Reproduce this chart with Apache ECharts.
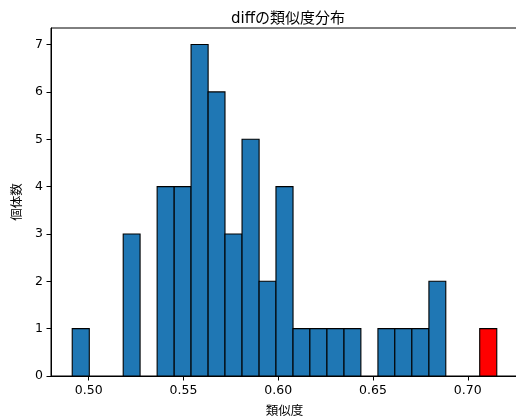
<!DOCTYPE html>
<html>
<head>
<meta charset="utf-8">
<script src="https://cdn.jsdelivr.net/npm/echarts@6/dist/echarts.min.js"></script>
<style>
html,body{margin:0;padding:0;background:#fff;}
#chart{width:516px;height:419px;}
</style>
</head>
<body>
<div id="chart"></div>
<script>
// Histogram bin edges (26 edges -> 25 bins)
var binEdges = [0.4913, 0.5003, 0.5092, 0.5182, 0.5271, 0.5361, 0.5451, 0.5540, 0.5630, 0.5719,
                0.5809, 0.5899, 0.5988, 0.6078, 0.6167, 0.6257, 0.6347, 0.6436, 0.6526, 0.6615,
                0.6705, 0.6795, 0.6884, 0.6974, 0.7063, 0.7153];
// Counts per bin
var binCounts = [1, 0, 0, 3, 0, 4, 4, 7, 6, 3, 5, 2, 4, 1, 1, 1, 1, 0, 1, 1, 1, 2, 0, 0, 1];
// Bin drawn in red
var highlightBin = 24;
var xTicks = [0.50, 0.55, 0.60, 0.65, 0.70];
var yTicks = [0, 1, 2, 3, 4, 5, 6, 7];
var titleText = 'diffの類似度分布';
var xName = '類似度';
var yName = '個体数';

var FONT = "'DejaVu Sans', 'Noto Sans CJK JP', sans-serif";

var data = binCounts.map(function (c, i) {
  return [binEdges[i], binEdges[i + 1], c, i === highlightBin ? 1 : 0];
});

var chart = echarts.init(document.getElementById('chart'), null, {renderer: 'canvas'});
chart.setOption({
  animation: false,
  backgroundColor: '#fff',
  title: {
    text: titleText,
    left: 283, top: 7, textAlign: 'center',
    textStyle: {fontFamily: FONT, fontSize: 15, fontWeight: 'normal', color: '#000'}
  },
  grid: {left: 51, top: 28, width: 467, height: 348, show: true, borderColor: '#000', borderWidth: 1,
    backgroundColor: 'transparent', containLabel: false, outerBoundsMode: 'none'},
  xAxis: {
    type: 'value', min: 0.4801, max: 0.7265,
    name: xName, nameLocation: 'middle', nameGap: 29,
    nameTextStyle: {fontFamily: FONT, fontSize: 12.5, color: '#000'},
    axisLine: {show: true, onZero: false, lineStyle: {color: '#000', width: 1}},
    axisTick: {show: true, length: 4.5, customValues: xTicks, lineStyle: {color: '#000'}},
    axisLabel: {customValues: xTicks, margin: 8, fontFamily: FONT, fontSize: 12.5, color: '#000',
      formatter: function (v) { return v.toFixed(2); }},
    splitLine: {show: false}
  },
  yAxis: {
    type: 'value', min: 0, max: 7.35,
    name: yName, nameLocation: 'middle', nameGap: 25, nameRotate: 90,
    nameTextStyle: {fontFamily: FONT, fontSize: 12.5, color: '#000'},
    axisLine: {show: true, lineStyle: {color: '#000', width: 1}},
    axisTick: {show: true, length: 4.5, customValues: yTicks, lineStyle: {color: '#000'}},
    axisLabel: {customValues: yTicks, margin: 8, fontFamily: FONT, fontSize: 12.5, color: '#000'},
    splitLine: {show: false}
  },
  series: [{
    type: 'custom',
    clip: true,
    data: data,
    encode: {x: [0, 1], y: 2},
    renderItem: function (params, api) {
      var h = api.value(2);
      if (h <= 0) return null;
      var p0 = api.coord([api.value(0), 0]);
      var p1 = api.coord([api.value(1), h]);
      return {
        type: 'rect',
        shape: {x: p0[0], y: p1[1], width: p1[0] - p0[0], height: p0[1] - p1[1]},
        style: {fill: api.value(3) ? '#ff0000' : '#1f77b4', stroke: '#000', lineWidth: 1.1}
      };
    }
  }]
});
</script>
</body>
</html>
